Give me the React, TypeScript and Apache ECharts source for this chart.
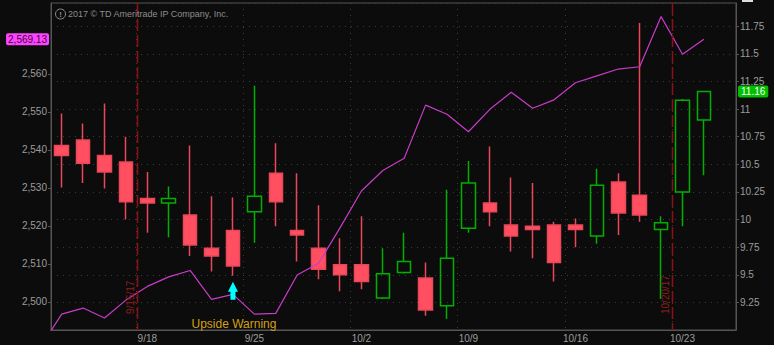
import React, { useEffect, useRef } from "react";
import * as echarts from "echarts";

// Trading days (9/11 is only partly visible at the left edge, 10/25 is an empty slot)
const dates = [
  "9/11", "9/12", "9/13", "9/14", "9/15",
  "9/18", "9/19", "9/20", "9/21", "9/22",
  "9/25", "9/26", "9/27", "9/28", "9/29",
  "10/2", "10/3", "10/4", "10/5", "10/6",
  "10/9", "10/10", "10/11", "10/12", "10/13",
  "10/16", "10/17", "10/18", "10/19", "10/20",
  "10/23", "10/24", "10/25",
];
const weekStarts = ["9/18", "9/25", "10/2", "10/9", "10/16", "10/23"];

// S&P 500 close (left axis, magenta line)
const spx = [
  2488.1, 2496.8, 2498.4, 2495.8, 2500.5,
  2504.1, 2506.6, 2508.3, 2500.7, 2502.0,
  2496.8, 2497.0, 2507.1, 2510.2, 2519.5,
  2529.2, 2534.6, 2537.8, 2551.8, 2549.4,
  2544.8, 2550.7, 2555.2, 2551.0, 2553.2,
  2557.7, 2559.5, 2561.3, 2561.9, 2575.1,
  2565.2, 2569.13, null,
];

// VIX candles (right axis)
const vixOpen = [
  null, 10.67, 10.72, 10.58, 10.52,
  10.19, 10.15, 10.04, 9.74, 9.9,
  10.07, 10.42, 9.9, 9.74, 9.59,
  9.59, 9.29, 9.52, 9.47, 9.22,
  9.92, 10.15, 9.95, 9.94, 9.95,
  9.95, 9.85, 10.34, 10.22, 9.91,
  10.25, 10.9, null,
];
const vixClose = [
  null, 10.58, 10.51, 10.43, 10.16,
  10.15, 10.19, 9.77, 9.67, 9.58,
  10.21, 10.16, 9.86, 9.55, 9.5,
  9.44, 9.51, 9.62, 9.18, 9.65,
  10.33, 10.07, 9.85, 9.91, 9.61,
  9.91, 10.31, 10.06, 10.04, 9.97,
  11.08, 11.16, null,
];
const vixLow = [
  null, 10.29, 10.33, 10.28, 10.0,
  9.88, 9.84, 9.67, 9.53, 9.49,
  9.79, 9.94, 9.62, 9.46, 9.35,
  9.37, 9.28, 9.51, 9.13, 9.1,
  9.88, 9.94, 9.71, 9.65, 9.44,
  9.75, 9.78, 9.86, 9.98, 9.28,
  9.94, 10.4, null,
];
const vixHigh = [
  null, 10.96, 10.87, 11.05, 10.75,
  10.43, 10.3, 10.67, 10.21, 10.2,
  11.21, 10.69, 10.42, 10.13, 9.83,
  10.03, 9.74, 9.88, 9.61, 10.27,
  10.53, 10.66, 10.38, 10.33, 9.98,
  10.01, 10.46, 10.42, 11.78, 10.03,
  11.09, 11.16, null,
];

const leftTicks = [2500, 2510, 2520, 2530, 2540, 2550, 2560];
const leftMin = 2492.63;
const leftMax = 2578.68;
const rightMin = 9;
const rightMax = 11.96;
const rightStep = 0.25;

const expirations = [
  { before: "9/15", after: "9/18", label: "9/15/17" },
  { before: "10/20", after: "10/23", label: "10/20/17" },
];
const warningDay = "9/22";
const warningText = "Upside Warning";
const copyright = "2017 \u00A9 TD Ameritrade IP Company, Inc.";
const lastSpx = 2569.13;
const lastVix = 11.16;

const FONT = "'Liberation Sans', Arial, sans-serif";
const AXIS = "#555555";
const LABEL = "#9c9c9c";
const GRID = "#3c3c3c";

export default function App() {
  const ref = useRef<HTMLDivElement>(null);

  useEffect(() => {
    document.body.style.margin = "0";
    document.body.style.background = "#0c0c0c";
    const chart = echarts.init(ref.current!, null, { renderer: "svg" });

    const candles = dates.map((_, i) =>
      vixOpen[i] == null
        ? ["-", "-", "-", "-"]
        : [vixOpen[i], vixClose[i], vixLow[i], vixHigh[i]]
    );

    chart.setOption({
      animation: false,
      backgroundColor: "#0c0c0c",
      textStyle: { fontFamily: FONT },
      grid: {
        left: 51,
        right: 38,
        top: 3,
        bottom: 15,
        show: true,
        borderColor: AXIS,
        borderWidth: 1,
        backgroundColor: "transparent",
      },
      xAxis: {
        type: "category",
        data: dates,
        min: 1,
        boundaryGap: true,
        axisLine: { show: true, lineStyle: { color: AXIS } },
        axisTick: { show: false },
        axisLabel: {
          interval: (_i: number, v: string) => weekStarts.includes(v),
          color: LABEL,
          fontSize: 10,
          fontFamily: FONT,
          margin: 3,
        },
        splitLine: {
          show: true,
          interval: (_i: number, v: string) => weekStarts.includes(v),
          lineStyle: { color: GRID, type: [1, 5], width: 1 },
        },
      },
      yAxis: [
        {
          type: "value",
          position: "left",
          min: leftMin,
          max: leftMax,
          splitLine: { show: false },
          axisLine: { show: true, lineStyle: { color: AXIS } },
          axisTick: {
            show: true,
            length: 3,
            customValues: leftTicks,
            lineStyle: { color: AXIS },
          },
          axisLabel: {
            customValues: leftTicks,
            formatter: (v: number) => v.toLocaleString("en-US"),
            color: LABEL,
            fontSize: 10,
            fontFamily: FONT,
            margin: 4,
          },
        },
        {
          type: "value",
          position: "right",
          min: rightMin,
          max: rightMax,
          interval: rightStep,
          splitLine: {
            show: true,
            lineStyle: { color: GRID, type: [1, 5], width: 1 },
          },
          axisLine: { show: true, lineStyle: { color: AXIS } },
          axisTick: { show: true, length: 3, lineStyle: { color: AXIS } },
          axisLabel: {
            showMinLabel: false,
            showMaxLabel: false,
            color: LABEL,
            fontSize: 10,
            fontFamily: FONT,
            margin: 4,
          },
        },
      ],
      series: [
        {
          type: "candlestick",
          yAxisIndex: 1,
          data: candles,
          barWidth: 14,
          itemStyle: {
            color: "rgba(0,0,0,0)",
            borderColor: "#00b000",
            color0: "#ff4f60",
            borderColor0: "#e8485a",
            borderWidth: 1.5,
          },
        },
        {
          type: "line",
          yAxisIndex: 0,
          data: spx,
          symbol: "none",
          clip: true,
          lineStyle: { color: "#c83cc8", width: 1.2 },
        },
      ],
    });

    const xp = (c: string) =>
      chart.convertToPixel({ xAxisIndex: 0 }, dates.indexOf(c)) as number;
    const yl = (v: number) =>
      chart.convertToPixel({ yAxisIndex: 0 }, v) as number;
    const yr = (v: number) =>
      chart.convertToPixel({ yAxisIndex: 1 }, v) as number;

    const yTop = yr(rightMax);
    const yBot = yr(rightMin);
    const graphics: any[] = [];

    expirations.forEach((e) => {
      const x = Math.round((xp(e.before) + xp(e.after)) / 2) + 0.5;
      graphics.push({
        type: "line",
        shape: { x1: x, y1: yTop, x2: x, y2: yBot },
        style: { stroke: "#8e1010", lineWidth: 1.5, lineDash: [12, 4] },
        z: 50,
      });
      graphics.push({
        type: "text",
        x: x - 7,
        y: yBot - 16,
        rotation: Math.PI / 2,
        style: {
          text: e.label,
          fill: "#8e1c1c",
          fontSize: 10,
          fontFamily: FONT,
          align: "left",
          verticalAlign: "middle",
        },
        z: 50,
      });
    });

    const wi = dates.indexOf(warningDay);
    const ax = xp(warningDay);
    const tip = yr(vixLow[wi] as number) + 6;
    graphics.push({
      type: "polygon",
      shape: {
        points: [
          [ax, tip],
          [ax + 5, tip + 10],
          [ax + 2.5, tip + 10],
          [ax + 2.5, tip + 18],
          [ax - 2.5, tip + 18],
          [ax - 2.5, tip + 10],
          [ax - 5, tip + 10],
        ],
      },
      style: { fill: "#00ffff" },
      z: 50,
    });
    graphics.push({
      type: "text",
      x: ax + 1,
      y: yBot - 6,
      style: {
        text: warningText,
        fill: "#d4a017",
        fontSize: 12,
        fontFamily: FONT,
        align: "center",
        verticalAlign: "middle",
      },
      z: 50,
    });

    // copyright notice
    graphics.push({
      type: "circle",
      shape: { cx: 60.5, cy: 14, r: 5 },
      style: { fill: "none", stroke: "#8c8c8c", lineWidth: 1 },
      z: 50,
    });
    graphics.push({
      type: "text",
      x: 60.5,
      y: 14,
      style: {
        text: "!",
        fill: "#8c8c8c",
        fontSize: 8,
        fontWeight: "bold",
        fontFamily: FONT,
        align: "center",
        verticalAlign: "middle",
      },
      z: 50,
    });
    graphics.push({
      type: "text",
      x: 68,
      y: 14,
      style: {
        text: copyright,
        fill: "#8c8c8c",
        fontSize: 9,
        fontFamily: FONT,
        align: "left",
        verticalAlign: "middle",
      },
      z: 50,
    });

    // last value tags
    graphics.push({
      type: "text",
      x: 49,
      y: yl(lastSpx),
      style: {
        text: lastSpx.toLocaleString("en-US"),
        fill: "#3a0a3a",
        fontSize: 10,
        fontFamily: FONT,
        align: "right",
        verticalAlign: "middle",
        backgroundColor: "#ff44ff",
        padding: [1, 2, 1, 2],
        borderRadius: 2,
      },
      z: 60,
    });
    graphics.push({
      type: "text",
      x: 738,
      y: yr(lastVix),
      style: {
        text: String(lastVix),
        fill: "#ffffff",
        fontSize: 10,
        fontFamily: FONT,
        align: "left",
        verticalAlign: "middle",
        backgroundColor: "#00c000",
        padding: [1, 3, 1, 3],
        borderRadius: 2,
      },
      z: 60,
    });
    graphics.push({
      type: "rect",
      shape: { x: 742, y: 0, width: 11, height: 2 },
      style: { fill: "#dddddd" },
      z: 60,
    });

    chart.setOption({ graphic: graphics });

    return () => chart.dispose();
  }, []);

  return (
    <div
      ref={ref}
      style={{ width: 774, height: 345, background: "#0c0c0c" }}
    />
  );
}
